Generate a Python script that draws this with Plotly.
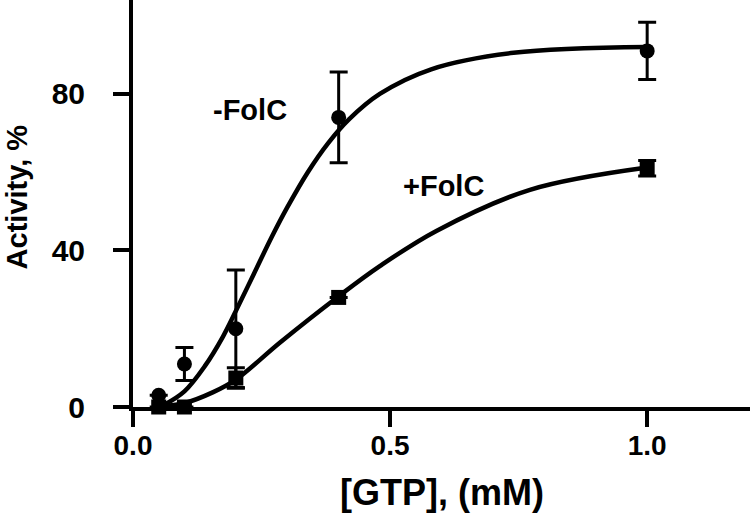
import plotly.graph_objects as go

# Measured data (-FolC: circles, +FolC: squares)
gtp_mM = [0.05, 0.1, 0.2, 0.4, 1.0]
minus_folc = [3, 11, 20, 74, 91]
minus_folc_err = [0, 4.2, 15, 11.6, 7.3]
plus_folc = [0, 0, 7.4, 28, 61]
plus_folc_err = [0, 0, 2.6, 0, 2]

# Fitted curves
fit_minus_x = [0.06, 0.1, 0.14, 0.175, 0.2, 0.235, 0.27, 0.3, 0.34, 0.38, 0.42, 0.48, 0.58, 0.74, 1.0]
fit_minus_y = [0.5, 4, 10.5, 18, 24.5, 34, 43.5, 51, 60, 67.5, 73.5, 80, 86.3, 90.5, 92]
fit_plus_x = [0.06, 0.1, 0.156, 0.2, 0.286, 0.397, 0.48, 0.59, 0.772, 1.0]
fit_plus_y = [0.3, 1, 3.8, 7, 16.5, 28, 36, 45, 55.5, 61.2]

x_ticks = [0.0, 0.5, 1.0]
x_tick_labels = ["0.0", "0.5", "1.0"]
y_ticks = [0, 40, 80]
y_tick_labels = ["0", "40", "80"]

FONT = "Liberation Sans"

fig = go.Figure()
for fx, fy in [(fit_minus_x, fit_minus_y), (fit_plus_x, fit_plus_y)]:
    fig.add_trace(go.Scatter(x=fx, y=fy, mode="lines",
                             line=dict(color="black", width=4.5, shape="spline", smoothing=1.0),
                             cliponaxis=False, showlegend=False))
fig.add_trace(go.Scatter(x=gtp_mM, y=minus_folc, mode="markers",
                         marker=dict(symbol="circle", size=15, color="black"),
                         error_y=dict(type="data", array=minus_folc_err, color="black",
                                      thickness=3, width=9),
                         cliponaxis=False, showlegend=False))
fig.add_trace(go.Scatter(x=gtp_mM, y=plus_folc, mode="markers",
                         marker=dict(symbol="square", size=15, color="black"),
                         error_y=dict(type="data", array=plus_folc_err, color="black",
                                      thickness=3, width=9),
                         cliponaxis=False, showlegend=False))

fig.add_annotation(x=0.228, y=75.8, text="<b>-FolC</b>", showarrow=False,
                   font=dict(family=FONT, size=29, color="black"))
fig.add_annotation(x=0.603, y=56.5, text="<b>+FolC</b>", showarrow=False,
                   font=dict(family=FONT, size=29, color="black"))
# axis titles
fig.add_annotation(xref="paper", yref="paper", x=0.5, y=-0.211,
                   xanchor="center", yanchor="middle", showarrow=False,
                   text="<b>[GTP], (mM)</b>", font=dict(family=FONT, size=36, color="black"))
fig.add_annotation(xref="paper", yref="paper", x=-0.188, y=0.515,
                   xanchor="center", yanchor="middle", showarrow=False, textangle=-90,
                   text="<b>Activity, %</b>", font=dict(family=FONT, size=29, color="black"))

fig.update_layout(
    width=750, height=513,
    margin=dict(l=133, r=0, t=0, b=106, autoexpand=False),
    paper_bgcolor="white", plot_bgcolor="white",
    font=dict(family=FONT, color="black"),
)
fig.update_xaxes(
    range=[0, 1.2], tickvals=x_ticks, ticktext=["<b>%s</b>" % t for t in x_tick_labels],
    showgrid=False, zeroline=False, showline=True, linecolor="black", linewidth=4,
    ticks="outside", ticklen=16, tickwidth=4, tickcolor="black",
    tickfont=dict(family=FONT, size=28, color="black"),
    automargin=False, ticklabelstandoff=-6,
)
fig.update_yaxes(
    range=[0, 104], tickvals=y_ticks, ticktext=["<b>%s</b>" % t for t in y_tick_labels],
    showgrid=False, zeroline=False, showline=True, linecolor="black", linewidth=4,
    ticks="outside", ticklen=16, tickwidth=4, tickcolor="black",
    tickfont=dict(family=FONT, size=30, color="black"),
    automargin=False, ticklabelstandoff=22,
)

fig.write_html("out.html", config={"displayModeBar": False},
               post_script="document.body.style.margin='0';")
